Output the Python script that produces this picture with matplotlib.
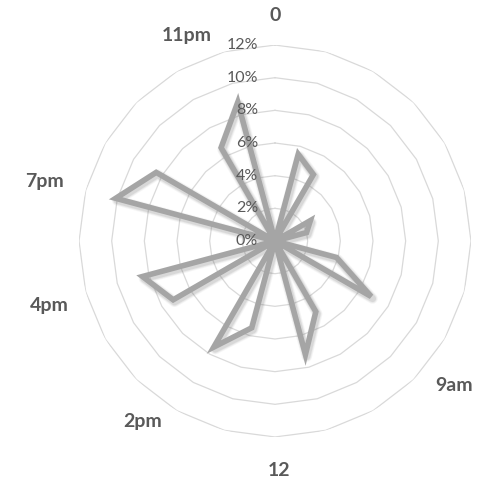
import numpy as np
import matplotlib
matplotlib.use("Agg")
import matplotlib.pyplot as plt
import matplotlib.patheffects as pe
from matplotlib.transforms import offset_copy

# hourly share (%) -- 24 categories, clockwise from top
values = [0, 5.5, 4.7, 0, 2.5, 2.0, 0, 3.9, 6.8, 0, 5.0, 7.2,
          0, 5.5, 7.5, 0, 7.2, 8.4, 0, 10.1, 8.4, 0, 6.6, 8.8]
cat_labels = ["0", "", "", "", "", "", "", "", "", "9am", "", "",
              "12", "", "2pm", "", "", "4pm", "", "7pm", "", "", "", "11pm"]
ring_levels = [2, 4, 6, 8, 10, 12]
tick_levels = [0, 2, 4, 6, 8, 10, 12]

# label nudges in pixels from the outer ring vertex (x right, y down), alignment
label_nudge = {
    "0": (0, -30, "center"),
    "9am": (22, 6, "left"),
    "12": (4, 34, "center"),
    "2pm": (-15, 11, "right"),
    "4pm": (-17, 14, "right"),
    "7pm": (-22, -9, "right"),
    "11pm": (-13, -16, "right"),
}

n = len(values)
theta = np.arange(n) * 2 * np.pi / n

fig = plt.figure(figsize=(4.92, 4.86), dpi=100)
ax = fig.add_axes([0.1606, 0.1008, 0.7967, 0.8066], projection="polar")
ax.set_theta_zero_location("N")
ax.set_theta_direction(-1)
ax.set_ylim(0, 12)
ax.grid(False)
ax.set_xticks([])
ax.set_yticks([])
ax.spines["polar"].set_visible(False)

# polygon grid rings
th_closed = np.append(theta, theta[0])
for lv in ring_levels:
    ax.plot(th_closed, [lv] * (n + 1), color="#d9d9d9", lw=0.9, zorder=1)

# data line with a soft shadow
v_closed = values + [values[0]]
lw = 4.0
shadow = []
for extra, a in [(3.5, 0.06), (2.2, 0.08), (1.0, 0.12)]:
    shadow.append(pe.Stroke(offset=(1.0, -1.5), linewidth=lw + extra,
                            foreground="#606060", alpha=a, joinstyle="round"))
ax.plot(th_closed, v_closed, color="#a5a5a5", lw=lw, solid_joinstyle="miter",
        zorder=3, path_effects=shadow + [pe.Normal()])

# radial tick labels
tr = offset_copy(ax.transData, fig=fig, x=-17, y=0, units="dots")
for lv in tick_levels:
    ax.text(0, lv, f"{lv}%", transform=tr, ha="right", va="center",
            fontsize=11.5, color="#595959", family="Lato", zorder=4)

# category labels
for t, lab in zip(theta, cat_labels):
    if not lab:
        continue
    dx, dy, ha = label_nudge[lab]
    trl = offset_copy(ax.transData, fig=fig, x=dx, y=-dy, units="dots")
    ax.text(t, 12, lab, transform=trl, ha=ha, va="center", fontsize=14,
            fontweight="bold", color="#595959", family="Lato")

fig.savefig("out.png", dpi=100)
